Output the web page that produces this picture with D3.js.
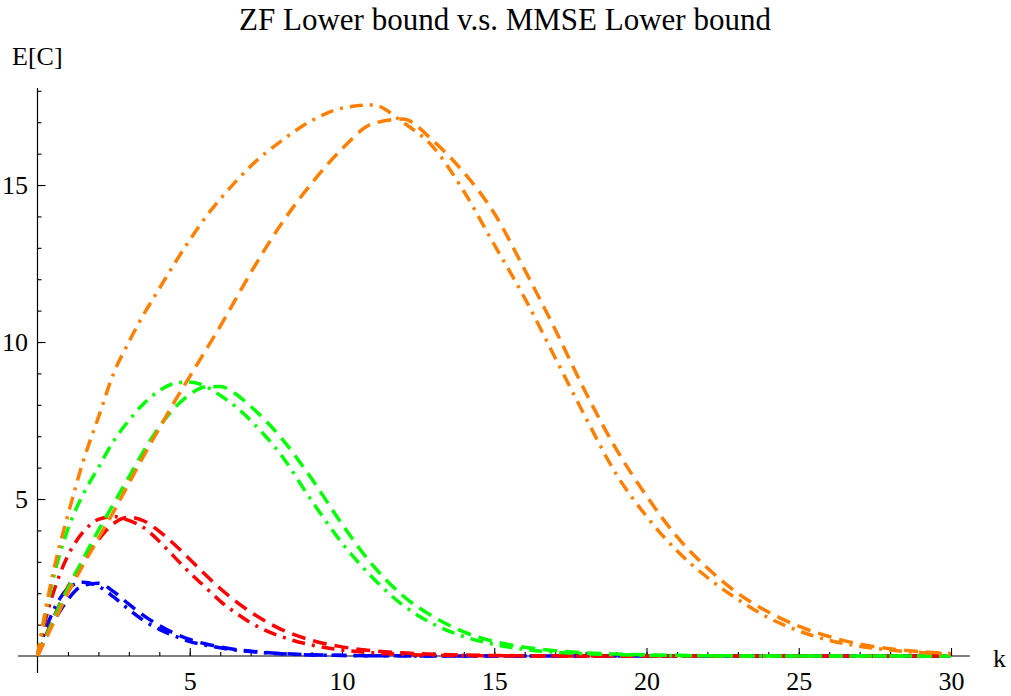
<!DOCTYPE html>
<html>
<head>
<meta charset="utf-8">
<script src="https://cdn.jsdelivr.net/npm/d3@7"></script>
<style>
  body { margin: 0; background: #fff; }
  text { font-family: "Liberation Serif", "Times New Roman", serif; }
</style>
</head>
<body>
<svg id="myGraph" width="1011" height="696"></svg>
<script>
var svgWidth = 1011;
var svgHeight = 696;

// k grid shared by all curves
var kValues = [0, 0.25, 0.5, 0.75, 1, 1.5, 2, 2.5, 3, 3.5, 4, 4.5, 5, 5.5, 6, 6.5, 7,
  8, 9, 10, 11, 12, 13, 14, 15, 16, 17, 18, 19, 20, 21, 22, 23, 24, 25, 26, 27, 28, 29, 30];

// dashed curves (ZF)
var zfBlue = [0, 0.55, 1.05, 1.45, 1.8, 2.25, 2.32, 2.05, 1.65, 1.28, 0.97, 0.72, 0.53, 0.39, 0.29, 0.21, 0.155,
  0.08, 0.04, 0.02, 0.01, 0.005, 0, 0, 0, 0, 0, 0, 0, 0, 0, 0, 0, 0, 0, 0, 0, 0, 0, 0];
var zfRed = [0, 0.6, 1.15, 1.7, 2.2, 3.0, 3.7, 4.22, 4.42, 4.3, 3.97, 3.55, 3.08, 2.6, 2.15, 1.75, 1.4,
  0.85, 0.5, 0.29, 0.17, 0.1, 0.055, 0.03, 0.017, 0.009, 0.005, 0, 0, 0, 0, 0, 0, 0, 0, 0, 0, 0, 0, 0];
var zfGreen = [0, 0.55, 1.1, 1.65, 2.15, 3.1, 4.0, 4.85, 5.7, 6.55, 7.3, 7.9, 8.33, 8.57, 8.58, 8.35, 7.95,
  6.95, 5.65, 4.2, 2.9, 1.92, 1.25, 0.77, 0.46, 0.28, 0.17, 0.1, 0.06, 0.035, 0.02, 0.01, 0.005, 0, 0, 0, 0, 0, 0, 0];
var zfOrange = [0, 0.5, 1.0, 1.5, 2.0, 2.9, 3.75, 4.6, 5.5, 6.4, 7.25, 8.1, 8.9, 9.7, 10.5, 11.35, 12.2,
  13.75, 15.05, 16.15, 16.95, 17.1, 16.4, 15.4, 14.1, 12.3, 10.4, 8.4, 6.6, 5.1, 3.8, 2.8, 2.0, 1.4, 0.95, 0.62, 0.38, 0.23, 0.14, 0.08];

// dot-dashed curves (MMSE)
var mmseBlue = [0, 0.8, 1.4, 1.85, 2.15, 2.35, 2.22, 1.88, 1.48, 1.12, 0.85, 0.64, 0.46, 0.35, 0.26, 0.19, 0.14,
  0.07, 0.035, 0.017, 0.008, 0.004, 0, 0, 0, 0, 0, 0, 0, 0, 0, 0, 0, 0, 0, 0, 0, 0, 0, 0];
var mmseRed = [0, 1.1, 1.95, 2.65, 3.2, 3.95, 4.35, 4.44, 4.32, 4.08, 3.65, 3.15, 2.65, 2.2, 1.75, 1.38, 1.06,
  0.62, 0.35, 0.19, 0.1, 0.05, 0.027, 0.014, 0.007, 0, 0, 0, 0, 0, 0, 0, 0, 0, 0, 0, 0, 0, 0, 0];
var mmseGreen = [0, 1.3, 2.4, 3.3, 4.05, 5.15, 6.0, 6.85, 7.5, 8.05, 8.45, 8.68, 8.73, 8.6, 8.3, 7.95, 7.5,
  6.4, 4.95, 3.6, 2.5, 1.62, 1.02, 0.62, 0.37, 0.21, 0.12, 0.07, 0.04, 0.02, 0.01, 0.005, 0, 0, 0, 0, 0, 0, 0, 0];
var mmseOrange = [0, 1.4, 2.6, 3.6, 4.5, 6.2, 7.6, 9.0, 10.0, 10.9, 11.7, 12.5, 13.25, 13.95, 14.55, 15.1, 15.6,
  16.4, 17.05, 17.45, 17.55, 17.0, 16.2, 14.8, 13.1, 11.4, 9.5, 7.6, 5.8, 4.45, 3.35, 2.5, 1.8, 1.22, 0.8, 0.5, 0.31, 0.19, 0.11, 0.06];

var xMajorTicks = [5, 10, 15, 20, 25, 30];
var yMajorTicks = [5, 10, 15];

var series = [
  { values: zfBlue, color: '#0000ff', dash: '14,8' },
  { values: mmseBlue, color: '#0000ff', dash: '13,7,3,7' },
  { values: zfRed, color: '#ff0000', dash: '14,8' },
  { values: mmseRed, color: '#ff0000', dash: '13,7,3,7' },
  { values: zfGreen, color: '#00ff00', dash: '14,8' },
  { values: mmseGreen, color: '#00ff00', dash: '13,7,3,7' },
  { values: zfOrange, color: '#ff8000', dash: '14,8' },
  { values: mmseOrange, color: '#ff8000', dash: '13,7,3,7' }
];

var svg = d3.select('#myGraph');
svg.append('rect').attr('width', svgWidth).attr('height', svgHeight).attr('fill', '#fff');

var xScale = d3.scaleLinear().domain([0, 30]).range([37.5, 951]);
var yScale = d3.scaleLinear().domain([0, 18.09]).range([656, 88]);

// axis lines (Mathematica style, crossing at origin)
svg.append('line')
  .attr('x1', xScale(-0.64)).attr('x2', xScale(30.62))
  .attr('y1', yScale(0)).attr('y2', yScale(0))
  .attr('stroke', '#000').attr('stroke-width', 1.2);
svg.append('line')
  .attr('x1', xScale(0)).attr('x2', xScale(0))
  .attr('y1', yScale(-0.54)).attr('y2', yScale(18.09))
  .attr('stroke', '#000').attr('stroke-width', 1.2);

// minor ticks
var xMinor = d3.axisBottom(xScale).tickValues(d3.range(1, 31)).tickSizeInner(-4).tickSizeOuter(0).tickFormat('');
var yMinor = d3.axisLeft(yScale).tickValues(d3.range(1, 19)).tickSizeInner(-4).tickSizeOuter(0).tickFormat('');
svg.append('g').attr('transform', 'translate(0,' + yScale(0) + ')').call(xMinor);
svg.append('g').attr('transform', 'translate(' + xScale(0) + ',0)').call(yMinor);

// major ticks with labels
var xMajor = d3.axisBottom(xScale).tickValues(xMajorTicks).tickSizeInner(-8).tickSizeOuter(0).tickPadding(16);
var yMajor = d3.axisLeft(yScale).tickValues(yMajorTicks).tickSizeInner(-8).tickSizeOuter(0).tickPadding(9.5);
svg.append('g').attr('class', 'xmajor').attr('transform', 'translate(0,' + yScale(0) + ')').call(xMajor);
svg.append('g').attr('class', 'ymajor').attr('transform', 'translate(' + xScale(0) + ',0)').call(yMajor);

svg.selectAll('.domain').remove();
svg.selectAll('.tick line').attr('stroke', '#000').attr('stroke-width', 1.1);
svg.selectAll('.tick text')
  .attr('fill', '#000')
  .style('font-family', '"Liberation Serif", serif')
  .style('font-size', '26px');

// curves
var line = d3.line()
  .x(function(d) { return xScale(d[0]); })
  .y(function(d) { return yScale(d[1]); })
  .curve(d3.curveMonotoneX);

svg.append('g')
  .selectAll('path')
  .data(series)
  .enter()
  .append('path')
  .attr('d', function(s) {
    return line(kValues.map(function(k, i) { return [k, s.values[i]]; }));
  })
  .attr('fill', 'none')
  .attr('stroke', function(s) { return s.color; })
  .attr('stroke-width', 3.5)
  .attr('stroke-dasharray', function(s) { return s.dash; });

// title and axis labels
svg.append('text')
  .attr('x', 505).attr('y', 30)
  .attr('text-anchor', 'middle')
  .style('font-size', '31px')
  .text('ZF Lower bound v.s. MMSE Lower bound');

svg.append('text')
  .attr('x', 12).attr('y', 65)
  .style('font-size', '26px')
  .text('E[C]');

svg.append('text')
  .attr('x', 993).attr('y', 667)
  .style('font-size', '26px')
  .text('k');
</script>
</body>
</html>
